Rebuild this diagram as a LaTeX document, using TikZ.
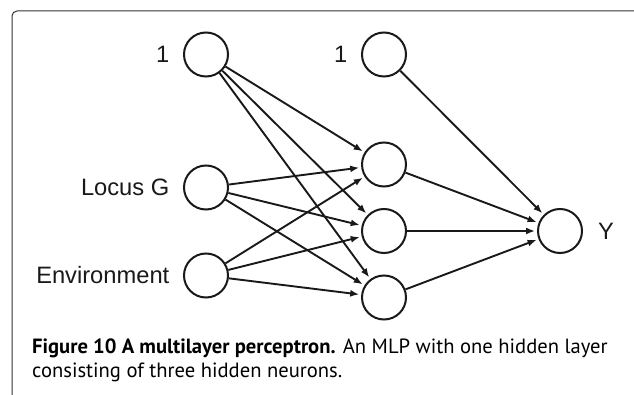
\documentclass[tikz,border=0pt]{standalone}
\usepackage{fontspec}
\setmainfont{Liberation Sans}
\newfontfamily\capfont{PT Sans}
\usetikzlibrary{arrows.meta}
\begin{document}
\begin{tikzpicture}[x=1pt,y=-1pt,
  neuron/.style={circle,draw=black!90,line width=2pt,minimum size=44pt,inner sep=0pt},
  lbl/.style={font=\fontsize{23.7}{26}\selectfont,inner sep=0pt,text=black!90},
  conn/.style={line width=1.9pt,draw=black!90,-{Latex[length=9pt,width=7pt]},shorten >=2pt},
  captxt/.style={anchor=base west,inner sep=0pt,font=\capfont\fontsize{20.6}{24}\selectfont}]
\useasboundingbox (0,0) rectangle (634,395);
\draw[line width=1pt,black!80,rounded corners=5pt] (12,397) -- (12,11) -- (636,11);
% nodes
\node[neuron] (b1) at (206,54.5) {};
\node[neuron] (x1) at (206,187.5) {};
\node[neuron] (x2) at (206,275.5) {};
\node[neuron] (b2) at (384,54.5) {};
\node[neuron] (h1) at (384,164.5) {};
\node[neuron] (h2) at (384,231) {};
\node[neuron] (h3) at (384,297.5) {};
\node[neuron] (y) at (560,231) {};
% labels
\node[lbl,anchor=east] (lb1) at ([xshift=-13.5pt]b1.west) {1};
\node[lbl,anchor=east] (lx1) at ([xshift=-13.5pt]x1.west) {Locus G};
\node[lbl,anchor=east] (lx2) at ([xshift=-13.5pt]x2.west) {Environment};
\node[lbl,anchor=east] (lb2) at ([xshift=-13.5pt]b2.west) {1};
\node[lbl,anchor=west] (ly) at ([xshift=15pt]y.east) {Y};
% connections
\foreach \s in {b1,x1,x2}{
  \foreach \t in {h1,h2,h3}{
    \draw[conn] (\s) -- (\t);
  }
}
\foreach \s in {b2,h1,h2,h3}{
  \draw[conn] (\s) -- (y);
}
% caption
\node[captxt] (cap1) at (32,353) {\textbf{Figure 10 A multilayer perceptron.} An MLP with one hidden layer};
\node[captxt] (cap2) at (32,377) {consisting of three hidden neurons.};
\end{tikzpicture}
\end{document}
